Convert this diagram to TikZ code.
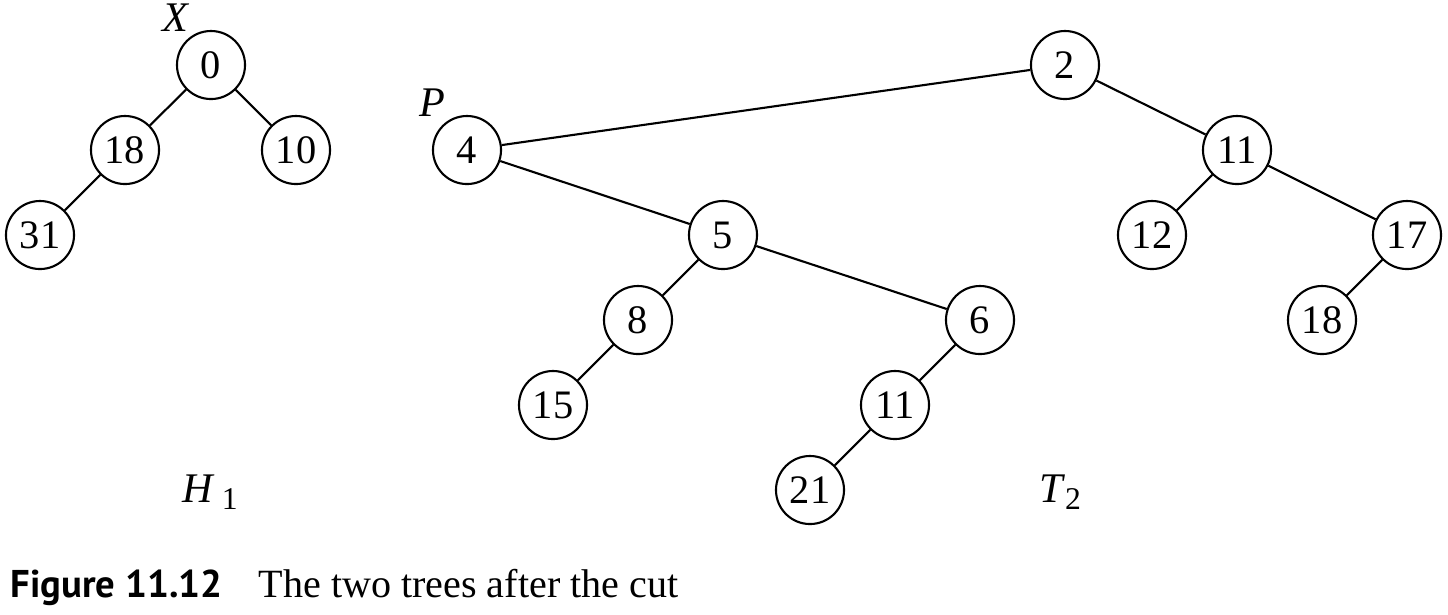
\documentclass[tikz,border=0pt]{standalone}
\usepackage{fontspec}
\setmainfont{Liberation Serif}
\newfontfamily\capsans{PT Sans}
\begin{document}
\begin{tikzpicture}[x=0.01cm,y=-0.01cm,
  vtx/.style={circle,draw,line width=0.6pt,minimum size=0.68cm,inner sep=0pt,font=\fontsize{11.5}{13}\selectfont},
  edge/.style={line width=0.6pt},
  lbl/.style={font=\fontsize{12}{14}\selectfont\itshape}]
\useasboundingbox (0,0) rectangle (1448,614);
% H1
\node[vtx] (a0) at (211,65) {0};
\node[vtx] (a18) at (125,150) {18};
\node[vtx] (a10) at (296,150) {10};
\node[vtx] (a31) at (40,235) {31};
\node[lbl] (X) at (175,18) {X};
\draw[edge] (a0) -- (a18);
\draw[edge] (a0) -- (a10);
\draw[edge] (a18) -- (a31);
% T2
\node[vtx] (b2) at (1065,65) {2};
\node[vtx] (b4) at (467,150) {4};
\node[vtx] (b11) at (1237,150) {11};
\node[vtx] (b5) at (723,235) {5};
\node[vtx] (b12) at (1152,235) {12};
\node[vtx] (b17) at (1407,235) {17};
\node[vtx] (b8) at (638,320) {8};
\node[vtx] (b6) at (980,320) {6};
\node[vtx] (b18) at (1322,320) {18};
\node[vtx] (b15) at (553,405) {15};
\node[vtx] (b11b) at (895,405) {11};
\node[vtx] (b21) at (810,490) {21};
\node[lbl] (P) at (432,103) {P};
\draw[edge] (b2) -- (b4);
\draw[edge] (b2) -- (b11);
\draw[edge] (b4) -- (b5);
\draw[edge] (b5) -- (b8);
\draw[edge] (b5) -- (b6);
\draw[edge] (b8) -- (b15);
\draw[edge] (b6) -- (b11b);
\draw[edge] (b11b) -- (b21);
\draw[edge] (b11) -- (b12);
\draw[edge] (b11) -- (b17);
\draw[edge] (b17) -- (b18);
% labels
\node[font=\fontsize{12}{14}\selectfont] (H1) at (210,492) {\textit{H}\,\raisebox{-0.35ex}{\fontsize{9}{10}\selectfont 1}};
\node[font=\fontsize{12}{14}\selectfont] (T2) at (1060,492) {\textit{T}\raisebox{-0.35ex}{\fontsize{9}{10}\selectfont 2}};
% caption
\node[anchor=base west,inner sep=0pt,font=\fontsize{11}{13}\selectfont\capsans\bfseries] (fig) at (10,597) {Figure 11.12};
\node[anchor=base west,inner sep=0pt,font=\fontsize{11.4}{13}\selectfont] (cap) at (258,597) {The two trees after the cut};
\end{tikzpicture}
\end{document}
